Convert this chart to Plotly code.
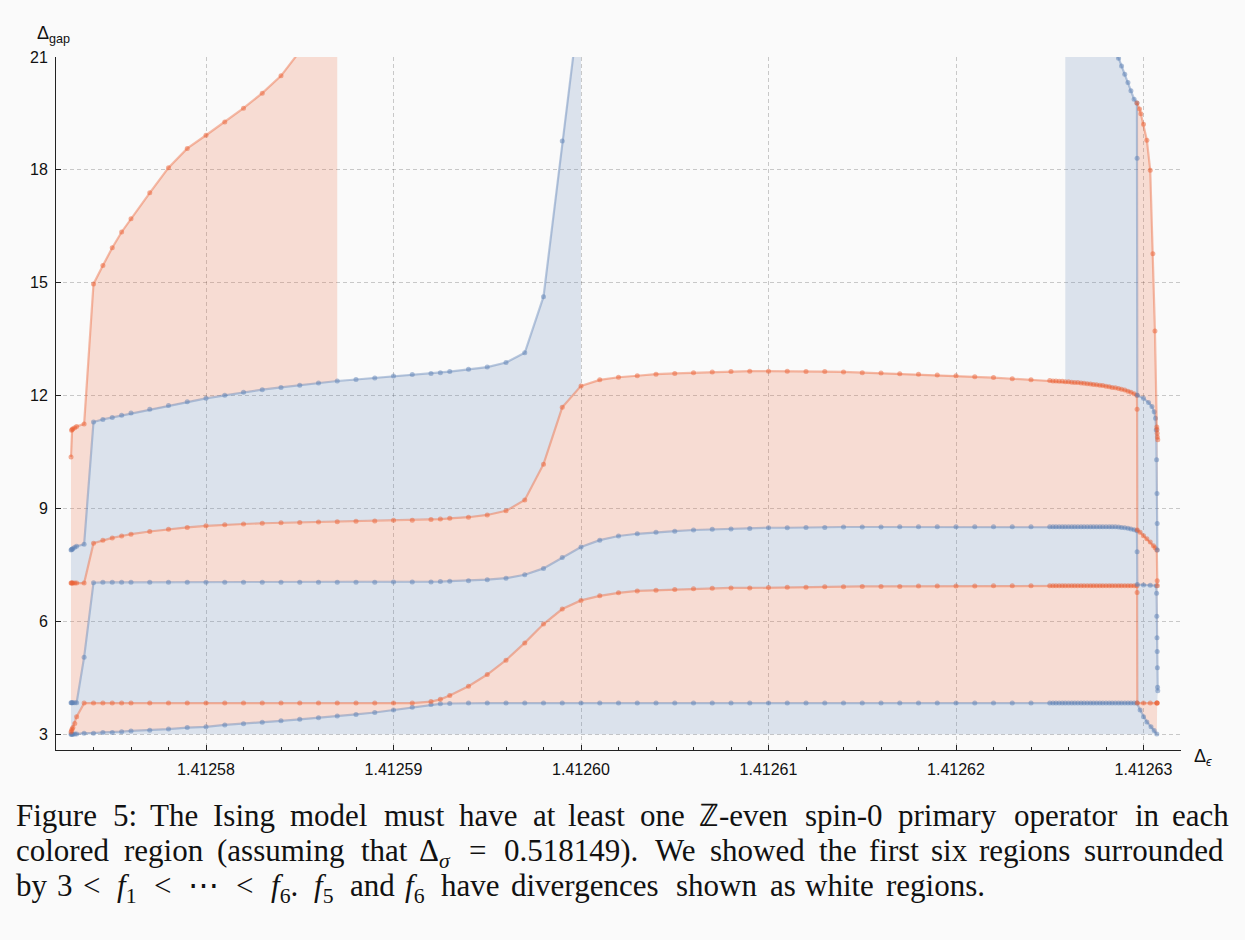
import plotly.graph_objects as go

# ---------------- data ----------------
# shared grid of Delta_epsilon sample positions (main part, before the jump)
de = [1.4125728, 1.41257283, 1.41257286, 1.4125729, 1.412573, 1.4125731, 1.4125735,
      1.412574, 1.4125745, 1.412575, 1.4125755, 1.412576,
      1.412577, 1.412578, 1.412579, 1.41258, 1.412581, 1.412582, 1.412583, 1.412584,
      1.412585, 1.412586, 1.412587, 1.412588, 1.412589, 1.41259,
      1.412591, 1.412592, 1.4125925, 1.412593, 1.412594, 1.412595, 1.412596, 1.412597,
      1.412598, 1.412599, 1.4126,
      1.412601, 1.412602, 1.412603, 1.412604, 1.412605, 1.412606, 1.412607, 1.412608,
      1.412609, 1.41261, 1.412611, 1.412612, 1.412613, 1.412614, 1.412615, 1.412616,
      1.412617, 1.412618, 1.412619, 1.41262, 1.412621, 1.412622, 1.412623, 1.412624,
      1.412625, 1.41262517, 1.41262533, 1.4126255, 1.41262567, 1.41262583, 1.412626,
      1.41262617, 1.41262633, 1.4126265, 1.41262667, 1.41262683, 1.412627, 1.41262717,
      1.41262733, 1.4126275, 1.41262767, 1.41262783, 1.412628, 1.41262817, 1.41262833,
      1.4126285, 1.41262867, 1.41262883, 1.412629, 1.41262917, 1.41262933, 1.4126295]

f1 = ([3.00, 3.00, 3.00, 3.00, 3.01, 3.01, 3.03, 3.03, 3.05, 3.05, 3.07, 3.09,
       3.11, 3.14, 3.18, 3.20, 3.25, 3.28, 3.32, 3.36, 3.40, 3.44, 3.49, 3.53, 3.58, 3.65,
       3.72, 3.79, 3.81, 3.82] + [3.83] * 59)

f2 = ([3.06, 3.10, 3.14, 3.18, 3.29, 3.47, 3.83] + [3.83] * 20 +
      [3.87, 3.93, 4.03, 4.28, 4.59, 4.97, 5.43, 5.93, 6.33, 6.56,
       6.68, 6.76, 6.81, 6.83, 6.85, 6.87, 6.88, 6.89, 6.89, 6.90, 6.91, 6.91, 6.92, 6.92,
       6.93, 6.93, 6.93, 6.94, 6.94, 6.94, 6.94, 6.95, 6.95, 6.95] + [6.95] * 28)

f3 = ([3.84] * 6 + [5.05, 7.03] + [7.04] * 17 +
      [7.05, 7.05, 7.05, 7.06, 7.07, 7.08, 7.11, 7.15, 7.24, 7.41, 7.70, 7.98,
       8.16, 8.27, 8.33, 8.37, 8.40, 8.43, 8.45, 8.46, 8.47, 8.49, 8.49, 8.50, 8.50, 8.51,
       8.51, 8.51, 8.52, 8.52, 8.52, 8.52, 8.52, 8.52, 8.52, 8.52] + [8.52] * 22 +
      [8.51, 8.50, 8.49, 8.48, 8.46, 8.44])

f4 = ([7.02] * 7 +
      [8.08, 8.16, 8.22, 8.27, 8.32, 8.39, 8.45, 8.50, 8.54, 8.57, 8.59, 8.61, 8.62, 8.63,
       8.64, 8.65, 8.66, 8.67, 8.69, 8.69, 8.71, 8.72, 8.74, 8.77, 8.83, 8.94, 9.23, 10.18,
       11.69, 12.26,
       12.42, 12.49, 12.53, 12.57, 12.59, 12.61, 12.63, 12.64, 12.65, 12.65, 12.65, 12.64,
       12.64, 12.63, 12.61, 12.60, 12.58, 12.57, 12.55, 12.53, 12.50, 12.48, 12.45, 12.42,
       12.40, 12.39, 12.39, 12.38, 12.38, 12.37, 12.37, 12.36, 12.35, 12.35, 12.34, 12.33,
       12.32, 12.31, 12.30, 12.29, 12.28, 12.27, 12.25, 12.24, 12.22, 12.21, 12.19, 12.17,
       12.15, 12.12, 12.09, 12.05])

f5 = ([7.90, 7.91, 7.92, 7.94, 7.97, 8.00, 8.05, 11.30, 11.37, 11.42, 11.48, 11.54,
       11.64, 11.74, 11.84, 11.93, 12.01, 12.09, 12.16, 12.22, 12.28, 12.34, 12.39, 12.43,
       12.47, 12.52, 12.56, 12.59, 12.61, 12.64, 12.70, 12.76, 12.88, 13.14, 14.63, 18.77,
       22.7] + [None] * 29 +
      [30.0, 27.5, 26.2, 25.4, 24.8, 24.3, 23.9, 23.5, 23.2, 22.9, 22.6, 22.35, 22.1,
       21.86, 21.63, 21.41, 21.19, 20.97, 20.76, 20.54, 20.32, 20.10, 19.88])

f6 = ([10.37, 11.08, 11.10, 11.12, 11.15, 11.18, 11.25, 14.97, 15.46, 15.93, 16.35,
       16.70, 17.39, 18.06, 18.57, 18.92, 19.27, 19.64, 20.04, 20.50, 21.15, 22.5, 25.0]
      + [None] * 66)

# tails after the jump near Delta_epsilon = 1.4126297
f1_tx = [1.41262965, 1.41262982, 1.41263, 1.41263018, 1.4126304, 1.41263057, 1.41263071]
f1_ty = [3.83, 3.65, 3.47, 3.33, 3.20, 3.10, 3.01]
f2_tx = [1.41262965, 1.41262966, 1.41262967, 1.41263, 1.41263036, 1.41263071, 1.41263072, 1.41263073]
f2_ty = [6.95, 6.77, 3.83, 3.83, 3.83, 3.83, 3.83, 3.83]
f3_tx = [1.41262965, 1.41262966, 1.41262967, 1.41263, 1.41263036, 1.41263068, 1.4126307,
         1.41263071, 1.41263072, 1.41263073, 1.41263074, 1.41263075, 1.41263076]
f3_ty = [8.41, 7.85, 6.98, 6.97, 6.96, 6.95, 6.75, 6.14, 5.57, 5.20, 4.77, 4.25, 4.16]
f4_tx = [1.41262965, 1.41262966, 1.41262967, 1.41262982, 1.41263, 1.41263018, 1.41263036,
         1.41263053, 1.41263062, 1.41263071, 1.41263073, 1.41263074]
f4_ty = [12.01, 11.64, 8.43, 8.37, 8.28, 8.20, 8.11, 8.01, 7.96, 7.90, 7.08, 6.95]
f5_tx = [1.41262965, 1.41262966, 1.41262967, 1.41263, 1.41263027, 1.41263045, 1.41263057,
         1.41263064, 1.41263068, 1.4126307, 1.41263072, 1.41263073, 1.41263074]
f5_ty = [19.78, 18.31, 12.01, 11.93, 11.82, 11.71, 11.57, 11.40, 11.09, 10.3, 9.4, 8.6, 7.90]
f6_tx = [1.41262965, 1.41262979, 1.41262986, 1.41263, 1.41263018, 1.41263036, 1.4126305,
         1.41263061, 1.41263071, 1.41263072, 1.41263073, 1.41263074, 1.41263076]
f6_ty = [19.78, 19.62, 19.49, 19.21, 18.79, 17.99, 15.77, 13.72, 11.17, 11.10, 11.00, 10.90, 10.83]

x_ticks = ["1.41258", "1.41259", "1.41260", "1.41261", "1.41262", "1.41263"]
y_ticks = [3, 6, 9, 12, 15, 18, 21]
GAP_FLOOR = 3

# caption pieces: plain word (width from Times metrics, stretchable space after)
# or (html, width_em, fixed space after in em) for math pieces
cap_lines = [
    (True, ["Figure", "5:", "The", "Ising", "model", "must", "have", "at", "least", "one",
            "ℤ-even", "spin-0", "primary", "operator", "in", "each"]),
    (True, ["colored", "region", "(assuming", "that",
            ("Δ<sub><i>σ</i></sub>", 1.233, 0.278), ("=", 0.778, 0.278),
            "0.518149).", "We", "showed", "the", "first", "six", "regions", "surrounded"]),
    (False, ["by", ("3", 0.5, 0.278), ("&lt;", 0.778, 0.278),
             ("<i>f</i><sub>1</sub>", 0.84, 0.278), ("&lt;", 0.778, 0.278),
             ("⋯", 1.172, 0.278), ("&lt;", 0.778, 0.278),
             "<i>f</i><sub>6</sub>.", "<i>f</i><sub>5</sub>", "and", "<i>f</i><sub>6</sub>",
             "have", "divergences", "shown", "as", "white", "regions."]),
]

# ---------------- styling ----------------
BLUE = (94, 129, 181)
ORANGE = (235, 98, 53)
def rgba(c, a):
    return "rgba(%d,%d,%d,%.3f)" % (c[0], c[1], c[2], a)

fig = go.Figure()

def full(fy, tx, ty):
    xs = [x for x, y in zip(de, fy) if y is not None] + tx
    ys = [y for y in fy if y is not None] + ty
    return xs, ys

X1, Y1 = full(f1, f1_tx, f1_ty)
X2, Y2 = full(f2, f2_tx, f2_ty)
X3, Y3 = full(f3, f3_tx, f3_ty)
X4, Y4 = full(f4, f4_tx, f4_ty)

def region(xl, yl, xu, yu, col):
    fig.add_trace(go.Scatter(x=list(xl) + list(xu)[::-1], y=list(yl) + list(yu)[::-1],
                             fill="toself", fillcolor=rgba(col, 0.2), mode="lines",
                             line=dict(width=0), hoverinfo="skip", showlegend=False))

region(X1, Y1, [X1[0], X1[-1]], [GAP_FLOOR, GAP_FLOOR], BLUE)
region(X1, Y1, X2, Y2, ORANGE)
region(X2, Y2, X3, Y3, BLUE)
region(X3, Y3, X4, Y4, ORANGE)
region(de[:37], f4[:37], de[:37], f5[:37], BLUE)
region(de[66:] + f4_tx, f4[66:] + f4_ty, de[66:] + f5_tx, f5[66:] + f5_ty, BLUE)
region(de[:23], f5[:23], de[:23], f6[:23], ORANGE)
region(f5_tx, f5_ty, f6_tx, f6_ty, ORANGE)

def curve(xs, ys, col):
    fig.add_trace(go.Scatter(x=xs, y=ys, mode="lines+markers",
                             line=dict(color=rgba(col, 0.42), width=2.2),
                             marker=dict(size=5, color=rgba(col, 0.5), line=dict(width=0)),
                             hoverinfo="skip", showlegend=False))

curve(X1, Y1, BLUE)
curve(X2, Y2, ORANGE)
curve(X3, Y3, BLUE)
curve(X4, Y4, ORANGE)
curve(de + f5_tx, f5 + f5_ty, BLUE)
curve(de + f6_tx, f6 + f6_ty, ORANGE)

# ---------------- layout ----------------
L, R, T, B = 56, 64, 57, 190
W, H = 1245, 940
pw, ph = W - L - R, H - T - B
def px(x):
    return (x - L) / pw
def py(y):
    return (H - B - y) / ph

axis_font = dict(family="Liberation Sans, Arial, sans-serif", size=16, color="#111")
grid = dict(showgrid=True, gridcolor="rgba(0,0,0,0.2)", gridwidth=1, griddash="4px,3px",
            zeroline=False, showline=True, linecolor="#222", linewidth=1,
            ticks="inside", ticklen=5, tickcolor="#222", tickfont=axis_font)

fig.update_layout(
    width=W, height=H, margin=dict(l=L, r=R, t=T, b=B, pad=0),
    paper_bgcolor="#fafafa", plot_bgcolor="#fafafa",
    xaxis=dict(range=[1.412572, 1.412632], tickmode="array",
               tickvals=[float(s) for s in x_ticks], ticktext=x_ticks,
               ticklabelstandoff=5,
               minor=dict(tickvals=[1.412572 + 2e-6 * i for i in range(31)],
                          ticks="inside", ticklen=3, tickcolor="#222", showgrid=False),
               **grid),
    yaxis=dict(range=[2.584, 21], tickmode="array", tickvals=y_ticks,
               ticktext=[str(v) for v in y_ticks], ticklabelstandoff=4, **grid),
)

lab_font = dict(family="Liberation Sans, Arial, sans-serif", size=18, color="#111")
ann = [
    dict(x=px(35), y=py(21), text="Δ<sub>gap</sub>", xanchor="left", yanchor="top", font=lab_font),
    dict(x=px(1192), y=py(744), text="Δ<sub><i>ϵ</i></sub>", xanchor="left", yanchor="top", font=lab_font),
]

# caption layout (Times metrics, 1/1000 em) -> piece start positions, justified lines
TIMES = {" ": 250, "(": 333, ")": 333, ",": 250, "-": 333, ".": 250, ":": 278, "=": 564,
         "F": 556, "I": 333, "T": 611, "W": 944, "ℤ": 667,
         "a": 444, "b": 500, "c": 444, "d": 500, "e": 444, "f": 333, "g": 500, "h": 500,
         "i": 278, "j": 278, "k": 500, "l": 278, "m": 778, "n": 500, "o": 500, "p": 500,
         "q": 500, "r": 333, "s": 389, "t": 278, "u": 500, "v": 500, "w": 722, "x": 500,
         "y": 500, "z": 444}
def em(s):
    s = s.replace("<i>f</i><sub>", "f").replace("</sub>", "")
    return sum(TIMES.get(ch, 500) for ch in s) / 1000.0

CAP_LEFT, CAP_RIGHT, HS, CAP_FS = 14, 1230, 32.8, 31
cap_font = dict(family="Liberation Serif, Times New Roman, serif", size=CAP_FS, color="#111")
cap_tops = [796, 831, 866]
for (justify, words), top in zip(cap_lines, cap_tops):
    items = []
    for w in words:
        if isinstance(w, str):
            items.append((w, em(w), 0.25, True))
        else:
            items.append((w[0], w[1], w[2], False))
    natural = sum(it[1] for it in items) * HS + sum(it[2] for it in items[:-1]) * HS
    n_stretch = sum(1 for it in items[:-1] if it[3])
    extra = (CAP_RIGHT - CAP_LEFT - natural) / n_stretch if justify else 0.0
    xcur = CAP_LEFT
    for html, wd, gap, stretch in items:
        ann.append(dict(x=px(xcur), y=py(top), text=html, xanchor="left", yanchor="top",
                        font=cap_font))
        xcur += (wd + gap) * HS + (extra if stretch else 0.0)

for a in ann:
    a.update(xref="paper", yref="paper", showarrow=False)
fig.update_layout(annotations=ann)

fig.write_html("out.html")
